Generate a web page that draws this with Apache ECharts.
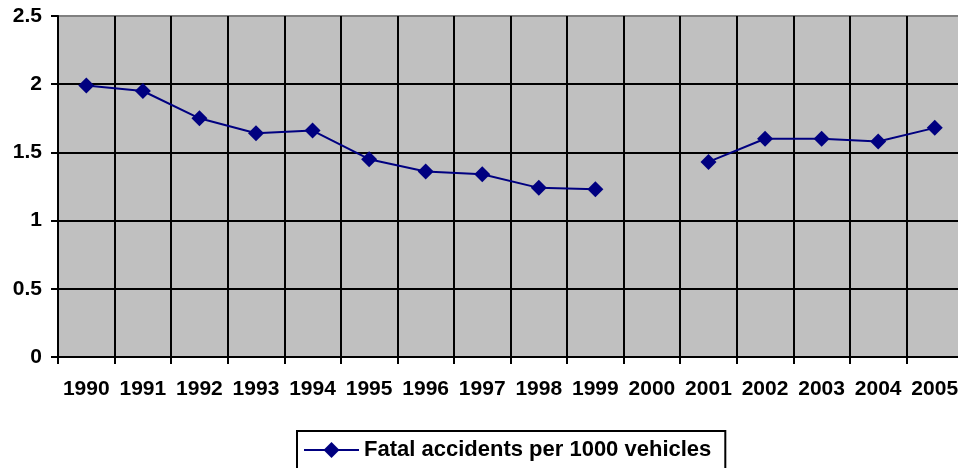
<!DOCTYPE html>
<html><head><meta charset="utf-8">
<script src="https://cdn.jsdelivr.net/npm/echarts@6/dist/echarts.min.js"></script>
<style>html,body{margin:0;padding:0;background:#fff}#c{width:958px;height:468px}</style>
</head><body><div id="c"></div>
<script>
var years = ['1990','1991','1992','1993','1994','1995','1996','1997','1998','1999','2000','2001','2002','2003','2004','2005'];
var fatalRates = [1.99,1.95,1.75,1.64,1.66,1.45,1.36,1.34,1.24,1.23,null,1.43,1.60,1.60,1.58,1.68];
var seriesName = 'Fatal accidents per 1000 vehicles';
var yTicks = [0,0.5,1,1.5,2,2.5];

var chart = echarts.init(document.getElementById('c'), null, {renderer:'canvas'});
var font = 'Liberation Sans, Arial, sans-serif';
chart.setOption({
  animation:false,
  backgroundColor:'#fff',
  grid:{left:58,width:905,top:16,height:341,backgroundColor:'#C0C0C0',show:true,borderWidth:0,
    containLabel:false,outerBoundsMode:'none'},
  xAxis:{type:'category',data:years,boundaryGap:true,
    axisLine:{lineStyle:{color:'#000',width:2}},
    axisTick:{show:true,length:7,lineStyle:{color:'#000',width:2},alignWithLabel:false},
    axisLabel:{color:'#000',fontFamily:font,fontWeight:'bold',fontSize:21,margin:22,interval:0},
    splitLine:{show:true,lineStyle:{color:'#000',width:2}}},
  yAxis:{type:'value',min:0,max:2.5,interval:0.5,
    axisLine:{show:true,lineStyle:{color:'#000',width:2}},
    axisTick:{show:true,length:7,lineStyle:{color:'#000',width:2}},
    axisLabel:{color:'#000',fontFamily:font,fontWeight:'bold',fontSize:21,margin:16,
      formatter:function(v){return yTicks.indexOf(v)>=0?String(v):'';}},
    splitLine:{show:true,lineStyle:{color:['#000','#000','#000','#000','#000','#808080'],width:2}}},
  legend:{show:true,top:431,left:297,orient:'horizontal',
    backgroundColor:'#fff',borderColor:'#000',borderWidth:2,padding:[8,14,10,6],
    itemWidth:55,itemHeight:20,itemGap:10,
    textStyle:{color:'#000',fontFamily:font,fontWeight:'bold',fontSize:22},
    data:[{name:seriesName}]},
  series:[{name:seriesName,type:'line',data:fatalRates,connectNulls:false,
    symbol:'diamond',symbolSize:16,
    lineStyle:{color:'#000080',width:2},
    itemStyle:{color:'#000080'}}]
});
</script></body></html>
